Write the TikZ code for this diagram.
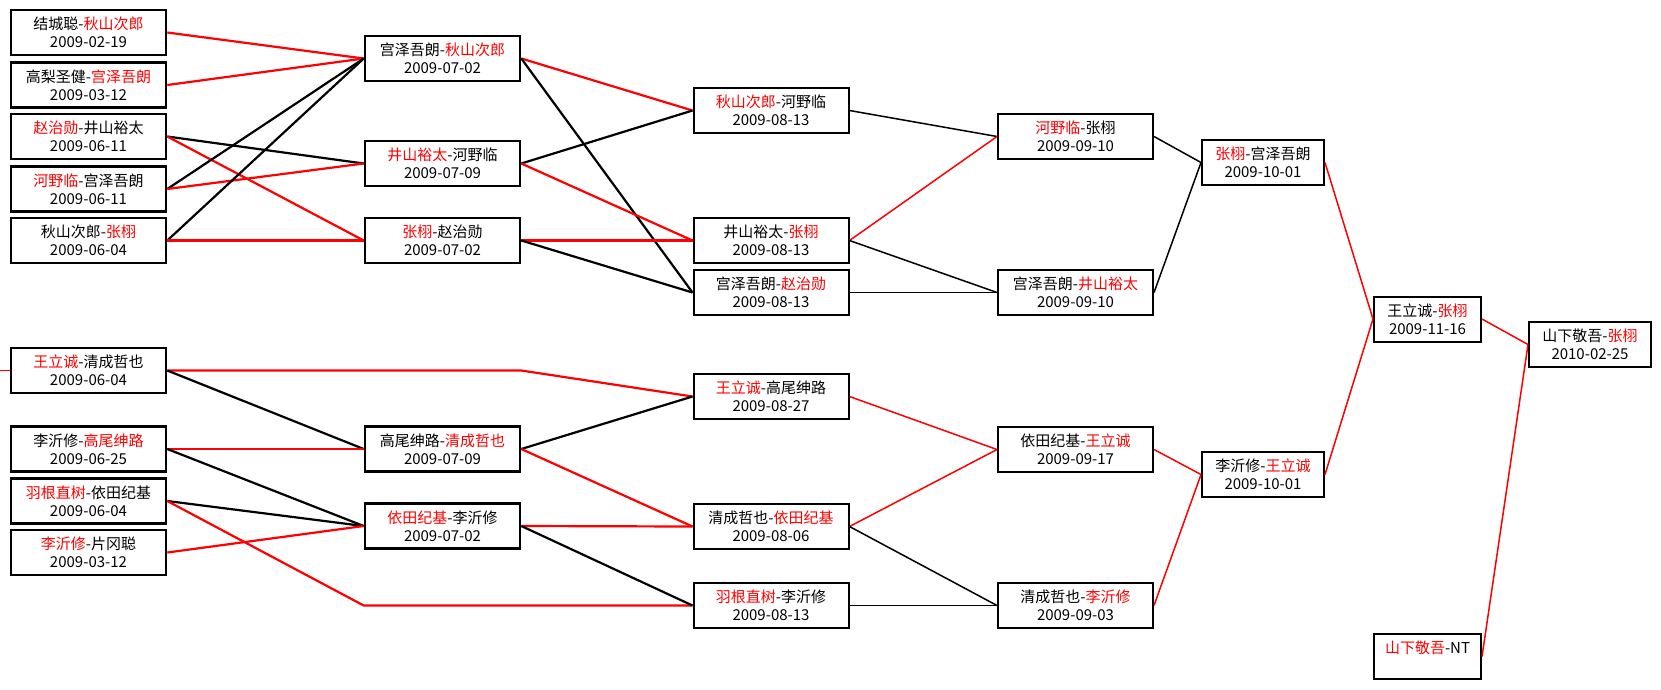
\documentclass[tikz,border=0pt]{standalone}
\usepackage{fontspec}
\setmainfont{Noto Sans CJK SC}
\usepackage{tikz}
\usetikzlibrary{shapes}
\newcommand \winner [1] {\textcolor{red}{#1}}
\tikzstyle{game}=[rectangle,draw=black,fill=white,align=center,inner sep=0mm,minimum height=45,minimum width=155,line width=2.6,font=\fontsize{15}{18}\selectfont]
\tikzstyle{later}=[game,line width=2]
\tikzstyle{short}=[later,minimum width=122]
\tikzstyle{final}=[later,minimum width=107]
\tikzstyle{win}=[draw=red]
\tikzstyle{loss}=[draw=black]
\tikzset{every picture/.style={
    line width=1.5, x=1pt, y=-1pt
  }
}

\begin{document}
\begin{tikzpicture}
      \useasboundingbox[fill=white] (0,0) rectangle (1661,689);
      % round 1
      \node[game] at (88.5,32.5) (a1) {结城聪-\winner{秋山次郎}\\2009-02-19};
      \node[game] at (88.5,85) (a2) {高梨圣健-\winner{宫泽吾朗}\\2009-03-12};
      \node[game] at (88.5,136.5) (a3) {\winner{赵治勋}-井山裕太\\2009-06-11};
      \node[game] at (88.5,189) (a4) {\winner{河野临}-宫泽吾朗\\2009-06-11};
      \node[game] at (88.5,240.5) (a5) {秋山次郎-\winner{张栩}\\2009-06-04};
      \node[game] at (88.5,370.5) (a6) {\winner{王立诚}-清成哲也\\2009-06-04};
      \node[game] at (88.5,449) (a7) {李沂修-\winner{高尾绅路}\\2009-06-25};
      \node[game] at (88.5,501) (a8) {\winner{羽根直树}-依田纪基\\2009-06-04};
      \node[game] at (88.5,552.5) (a9) {\winner{李沂修}-片冈聪\\2009-03-12};
      % round 2
      \node[game] at (442.5,58.5) (b1) {宫泽吾朗-\winner{秋山次郎}\\2009-07-02};
      \node[game] at (442.5,163.5) (b2) {\winner{井山裕太}-河野临\\2009-07-09};
      \node[game] at (442.5,240.5) (b3) {\winner{张栩}-赵治勋\\2009-07-02};
      \node[game] at (442.5,449) (b4) {高尾绅路-\winner{清成哲也}\\2009-07-09};
      \node[game] at (442.5,526) (b5) {\winner{依田纪基}-李沂修\\2009-07-02};
      % round 3
      \node[later] at (771,110.5) (c1) {\winner{秋山次郎}-河野临\\2009-08-13};
      \node[later] at (771,240.5) (c2) {井山裕太-\winner{张栩}\\2009-08-13};
      \node[later] at (771,292.5) (c3) {宫泽吾朗-\winner{赵治勋}\\2009-08-13};
      \node[later] at (771,396.5) (c4) {\winner{王立诚}-高尾绅路\\2009-08-27};
      \node[later] at (771,526.5) (c5) {清成哲也-\winner{依田纪基}\\2009-08-06};
      \node[later] at (771,605.5) (c6) {\winner{羽根直树}-李沂修\\2009-08-13};
      % round 4
      \node[later] at (1075.5,136.5) (d1) {\winner{河野临}-张栩\\2009-09-10};
      \node[later] at (1075.5,292.5) (d2) {宫泽吾朗-\winner{井山裕太}\\2009-09-10};
      \node[later] at (1075.5,449.5) (d3) {依田纪基-\winner{王立诚}\\2009-09-17};
      \node[later] at (1075.5,605.5) (d4) {清成哲也-\winner{李沂修}\\2009-09-03};
      % rounds 5 to 7
      \node[short] at (1263,162.5) (e1) {\winner{张栩}-宫泽吾朗\\2009-10-01};
      \node[short] at (1263,474.5) (e2) {李沂修-\winner{王立诚}\\2009-10-01};
      \node[final] at (1427.5,319) (f1) {王立诚-\winner{张栩}\\2009-11-16};
      \node[final] at (1427.5,656.5) (f2) {\winner{山下敬吾}-NT\\\phantom{2010}};
      \node[short] at (1590,344.5) (g1) {山下敬吾-\winner{张栩}\\2010-02-25};
      \coordinate (edge) at (0,370.5);
      \draw[win] (edge)--(a6.west);
      \begin{scope}[line width=2.2]
      \draw[win] (a1.east)--(b1.west);
      \draw[win] (a2.east)--(b1.west);
      \draw[loss] (a3.east)--(b2.west);
      \draw[win] (a3.east)--(b3.west);
      \draw[loss] (a4.east)--(b1.west);
      \draw[win] (a4.east)--(b2.west);
      \draw[loss] (a5.east)--(b1.west);
      \draw[win] (a5.east)--(b3.west);
      \draw[win] (a6.east)--(a6.east -| b1.east)--(c4.west);
      \draw[loss] (a6.east)--(b4.west);
      \draw[win] (a7.east)--(b4.west);
      \draw[loss] (a7.east)--(b5.west);
      \draw[loss] (a8.east)--(b5.west);
      \draw[win] (a8.east)--(c6.west -| b5.west)--(c6.west);
      \draw[win] (a9.east)--(b5.west);
      \draw[win] (b1.east)--(c1.west);
      \draw[loss] (b1.east)--(c3.west);
      \draw[loss] (b2.east)--(c1.west);
      \draw[win] (b2.east)--(c2.west);
      \draw[win] (b3.east)--(c2.west);
      \draw[loss] (b3.east)--(c3.west);
      \draw[loss] (b4.east)--(c4.west);
      \draw[win] (b4.east)--(c5.west);
      \draw[win] (b5.east)--(c5.west);
      \draw[loss] (b5.east)--(c6.west);
      \end{scope}
      \draw[loss] (c1.east)--(d1.west);
      \draw[win] (c2.east)--(d1.west);
      \draw[loss] (c2.east)--(d2.west);
      \draw[loss] (c3.east)--(d2.west);
      \draw[win] (c4.east)--(d3.west);
      \draw[win] (c5.east)--(d3.west);
      \draw[loss] (c5.east)--(d4.west);
      \draw[loss] (c6.east)--(d4.west);
      \draw[loss] (d1.east)--(e1.west);
      \draw[loss] (d2.east)--(e1.west);
      \draw[win] (d3.east)--(e2.west);
      \draw[win] (d4.east)--(e2.west);
      \draw[win] (e1.east)--(f1.west);
      \draw[win] (e2.east)--(f1.west);
      \draw[win] (f1.east)--(g1.west);
      \draw[win] (f2.east)--(g1.west);
    \end{tikzpicture}
\end{document}
